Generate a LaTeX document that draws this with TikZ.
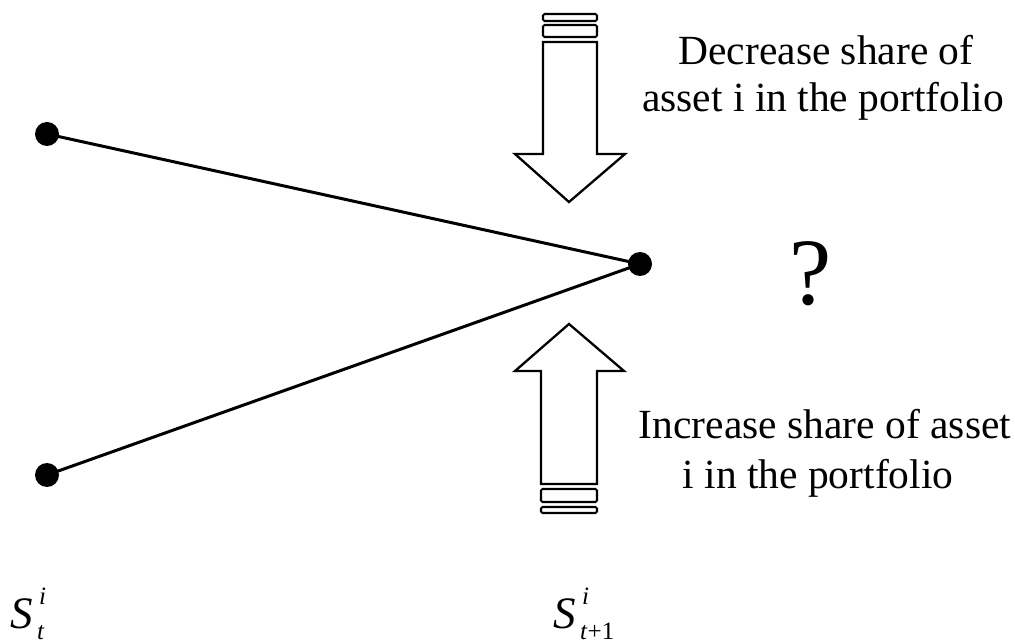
\documentclass[tikz,border=0pt]{standalone}
\usepackage{fontspec}
\setmainfont{Liberation Serif}
\begin{document}
\begin{tikzpicture}[x=1pt,y=-1pt,
  dot/.style={circle,fill=black,inner sep=0pt,minimum size=24pt},
  link/.style={line width=3pt},
  bigarrow/.style={draw=black,line width=2.3pt,line join=miter,fill=white},
  stripe/.style={draw=black,line width=2.1pt,rounded corners=1.5pt},
  lbl/.style={font=\fontsize{41.5}{48}\selectfont,inner sep=0pt,anchor=base},
  sbig/.style={font=\fontsize{45}{48}\selectfont\itshape,inner sep=0pt,anchor=base west},
  ssmall/.style={font=\fontsize{25}{28}\selectfont,inner sep=0pt,anchor=base west},
  sital/.style={ssmall,font=\fontsize{25}{28}\selectfont\itshape}]
\useasboundingbox (0,0) rectangle (1015,644);
% dots
\node[dot] (a) at (47,134) {};
\node[dot] (b) at (47,475) {};
\node[dot] (c) at (640,264) {};
\draw[link] (a.center) -- (c.center);
\draw[link] (b.center) -- (c.center);
% down arrow
\draw[stripe] (543,14) rectangle (597,21);
\draw[stripe] (543,25) rectangle (597,37);
\draw[bigarrow] (543,42) -- (597,42) -- (597,154) -- (625,154) -- (569,202) -- (515,154) -- (543,154) -- cycle;
% up arrow
\draw[bigarrow] (541,484) -- (597,484) -- (597,371) -- (624,371) -- (569,324) -- (515,371) -- (541,371) -- cycle;
\draw[stripe] (541,489) rectangle (597,502);
\draw[stripe] (541,507) rectangle (597,513);
% texts
\node[lbl] (t1) at (826,65) {Decrease share of};
\node[lbl] (t2) at (823,112) {asset i in the portfolio};
\node[lbl] (t3) at (825,438) {Increase share of asset};
\node[lbl] (t4) at (818,488) {i in the portfolio};
\node[font=\fontsize{95}{100}\selectfont,inner sep=0pt,anchor=base] (q) at (811,305) {?};
% state labels
\node[sbig] (s1) at (10,628) {S};
\node[sital] (s1i) at (39,604) {i};
\node[sital] (s1t) at (37,639) {t};
\node[sbig] (s2) at (553,628) {S};
\node[sital] (s2i) at (582,604) {i};
\node[ssmall] (s2t) at (580,639) {\textit{t}+1};
\end{tikzpicture}
\end{document}
